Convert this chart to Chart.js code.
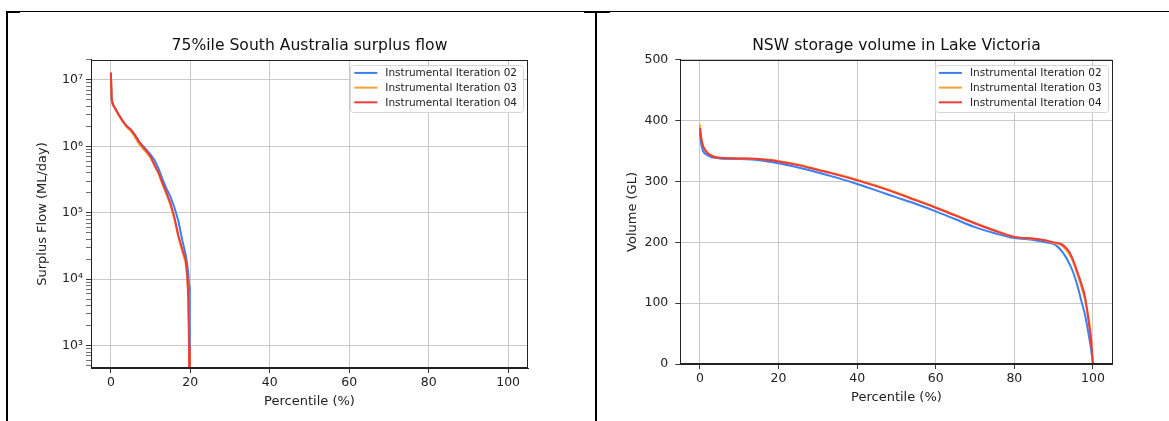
<!DOCTYPE html>
<html>
<head>
<meta charset="utf-8">
<title>Surplus flow and Lake Victoria storage</title>
<script src="https://cdn.jsdelivr.net/npm/chart.js@4.4.0/dist/chart.umd.min.js"></script>
<style>
  html, body { margin: 0; padding: 0; background: #fff; }
  body { width: 1169px; height: 421px; position: relative; overflow: hidden; }
  .cell { position: absolute; top: 0; height: 421px; }
  .rule { position: absolute; background: #000; }
</style>
</head>
<body>
<div class="cell" style="left:0;width:595px"><canvas id="saChart" width="595" height="421"></canvas></div>
<div class="cell" style="left:597px;width:572px"><canvas id="lvChart" width="572" height="421"></canvas></div>

<!-- table cell borders round the two figures -->
<div class="rule" style="left:6px;top:11px;width:1163px;height:1px"></div>
<div class="rule" style="left:6px;top:11px;width:14px;height:2px"></div>
<div class="rule" style="left:584px;top:11px;width:26px;height:2px"></div>
<div class="rule" style="left:6px;top:11px;width:2px;height:410px"></div>
<div class="rule" style="left:595px;top:11px;width:2px;height:410px"></div>

<script>
// ---- data ----
const seriesNames = ['Instrumental Iteration 02', 'Instrumental Iteration 03', 'Instrumental Iteration 04'];
const percentileTicks = [0, 20, 40, 60, 80, 100];

// 75%ile South Australia surplus flow (ML/day), log axis
const flowDecades = [1e3, 1e4, 1e5, 1e6, 1e7];
const saPct = [0, 0.2, 0.5, 1, 2, 3, 4, 5, 6, 7, 8, 9, 10, 11, 12, 13, 14, 15, 16, 17, 18, 18.8, 19.2, 19.5, 19.7, 19.8, 19.9];
const flow02 = [1.2e7, 5.0e6, 4.3e6, 3.8e6, 3.0e6, 2.4e6, 2.0e6, 1.8e6, 1.5e6, 1.2e6, 1.02e6, 8.8e5, 7.5e5, 6.2e5, 4.6e5, 3.2e5, 2.3e5, 1.75e5, 1.2e5, 7.5e4, 3.8e4, 2.4e4, 1.7e4, 1.2e4, 8e3, 2e3, 1];
const flow03 = [1.25e7, 5.1e6, 4.2e6, 3.7e6, 2.9e6, 2.35e6, 1.95e6, 1.7e6, 1.4e6, 1.1e6, 9.3e5, 8.0e5, 6.8e5, 5.2e5, 3.9e5, 2.7e5, 1.9e5, 1.3e5, 8.0e4, 4.3e4, 2.6e4, 1.8e4, 1.1e4, 6e3, 8e2, 1, 1];
const flow04 = [1.3e7, 5.2e6, 4.3e6, 3.8e6, 3.0e6, 2.4e6, 2.0e6, 1.8e6, 1.5e6, 1.2e6, 1.0e6, 8.5e5, 7.0e5, 5.2e5, 4.0e5, 2.8e5, 2.0e5, 1.4e5, 8.5e4, 4.5e4, 2.8e4, 2.0e4, 1.25e4, 5e3, 1e3, 1, 1];

// NSW storage volume in Lake Victoria (GL)
const volumeTicks = [0, 100, 200, 300, 400, 500];
const lvPct = [0, 0.3, 0.7, 1, 1.5, 2, 3, 4, 5, 10, 15, 20, 25, 30, 35, 40, 45, 50, 55, 60, 65, 70, 75, 80, 85, 88, 90, 91, 92, 93, 94, 95, 96, 97, 98, 99, 99.5, 100];
const vol02 = [380, 362, 352, 348, 345, 343, 340, 339, 338, 337, 335, 330, 323, 315, 306, 296, 285, 274, 263, 251, 238, 225, 215, 207, 204, 200, 197, 193, 186, 177, 165, 150, 130, 105, 80, 45, 25, 0];
const vol03 = [394, 374, 361, 356, 351, 347, 343, 340, 339, 338, 337, 334, 328, 320, 312, 303, 293, 282, 270, 258, 245, 232, 220, 209, 206, 203, 199, 198, 195, 189, 180, 167, 148, 128, 105, 72, 45, 0];
const vol04 = [388, 372, 360, 355, 350, 346, 342, 340, 339, 338, 337, 333, 327, 319, 311, 302, 292, 281, 269, 257, 244, 231, 219, 209, 206, 203, 200, 199, 197, 192, 184, 170, 152, 133, 110, 65, 40, 0];

// ---- styling ----
const lineColors = ['#3a80f5', '#f7a035', '#ec3b3b'];
const FONT = '"DejaVu Sans", sans-serif';
Chart.defaults.font.family = FONT;
Chart.defaults.color = '#222';

const supDigits = '⁰¹²³⁴⁵⁶⁷⁸⁹';
const toSup = n => String(n).split('').map(c => supDigits[+c]).join('');

// full box round the plot area, like matplotlib spines
const framePlugin = {
    id: 'frame',
    afterDatasetsDraw(chart, args, opts) {
        const { ctx, chartArea: a } = chart;
        const l = Math.round(a.left) + 0.5, t = Math.round(a.top) + 0.5;
        const r = Math.round(a.right) - 0.5, b = Math.round(a.bottom) - 0.5;
        ctx.save();
        ctx.strokeStyle = opts.color || '#222';
        ctx.lineWidth = 1;
        ctx.strokeRect(l, t, r - l, b - t);
        ctx.restore();
    }
};

// legend box in the upper right corner of the plot area
const boxLegendPlugin = {
    id: 'boxLegend',
    afterDraw(chart) {
        const { ctx, chartArea: a } = chart;
        const sets = chart.data.datasets;
        ctx.save();
        ctx.font = '10.5px ' + FONT;
        const textW = Math.max(...sets.map(d => ctx.measureText(d.label).width));
        const rowH = 14.7;
        const w = 4 + 23 + 8 + textW + 6;
        const h = 7.5 + rowH * (sets.length - 1) + 10;
        const x = a.right - 5 - w, y = a.top + 5.5;
        ctx.fillStyle = 'rgba(255,255,255,0.85)';
        ctx.strokeStyle = '#d6d6d6';
        ctx.lineWidth = 1;
        ctx.beginPath();
        ctx.roundRect(Math.round(x) + 0.5, Math.round(y) + 0.5, Math.round(w), Math.round(h), 3);
        ctx.fill();
        ctx.stroke();
        sets.forEach((d, i) => {
            const cy = y + 7.5 + rowH * i;
            ctx.strokeStyle = d.borderColor;
            ctx.lineWidth = 2;
            ctx.beginPath();
            ctx.moveTo(x + 4, cy);
            ctx.lineTo(x + 27, cy);
            ctx.stroke();
            ctx.fillStyle = '#222';
            ctx.textBaseline = 'middle';
            ctx.fillText(d.label, x + 35, cy + 0.5);
        });
        ctx.restore();
    }
};

function makeSets(xs, series, tension) {
    return series.map((ys, i) => ({
        label: seriesNames[i],
        data: xs.map((x, j) => ({ x, y: ys[j] })),
        borderColor: lineColors[i],
        backgroundColor: lineColors[i],
        borderWidth: 2,
        pointRadius: 0,
        tension: tension,
        cubicInterpolationMode: tension ? 'monotone' : 'default',
        order: series.length - i
    }));
}

const gridColor = '#c4c4c4';

function xScale(tickPad, titlePad, height) {
    return {
        type: 'linear',
        min: -5,
        max: 105,
        afterBuildTicks: s => { s.ticks = percentileTicks.map(v => ({ value: v })); },
        afterFit: s => { s.height = height; },
        grid: { color: gridColor, lineWidth: 0.9, tickLength: 5, tickColor: '#222' },
        border: { color: '#222', width: 1 },
        ticks: { font: { size: 12.5 }, color: '#222', padding: tickPad, maxRotation: 0 },
        title: { display: true, text: 'Percentile (%)', font: { size: 13 }, color: '#222', padding: { top: 0, bottom: titlePad } }
    };
}

function baseOptions(titleText) {
    return {
        responsive: false,
        animation: false,
        events: [],
        layout: { padding: 0 },
        plugins: {
            legend: { display: false },
            tooltip: { enabled: false },
            title: {
                display: true,
                text: titleText,
                fullSize: false,
                color: '#111',
                font: { size: 15.6, weight: 'normal' },
                padding: { top: 36.3, bottom: 4.9 }
            },
            frame: { color: '#222' }
        }
    };
}

// ---- left: surplus flow ----
const saOpts = baseOptions('75%ile South Australia surplus flow');
saOpts.layout.padding = { left: 0, right: 67, top: 0, bottom: 0 };
saOpts.scales = {
    x: xScale(2.2, 11.2, 53),
    y: {
        type: 'logarithmic',
        min: 461,
        max: 2.0e7,
        afterBuildTicks: s => {
            const t = [];
            flowDecades.concat([1e2]).forEach(d => {
                for (let m = 1; m <= 9; m++) {
                    const v = m * d;
                    if (v >= s.min && v <= s.max) t.push({ value: v, major: m === 1 });
                }
            });
            t.sort((p, q) => p.value - q.value);
            s.ticks = t;
        },
        afterFit: s => { s.width = 91; },
        grid: {
            color: c => (c.tick && c.tick.major ? gridColor : 'rgba(0,0,0,0)'),
            lineWidth: 0.9,
            tickLength: 5,
            tickColor: '#333',
            tickWidth: c => (c.tick && c.tick.major ? 1 : 0.7)
        },
        border: { color: '#222', width: 1 },
        ticks: {
            autoSkip: false,
            padding: 3,
            color: '#222',
            font: { size: 12.5 },
            callback: (v, i, ticks) => (ticks[i].major ? '10' + toSup(Math.round(Math.log10(v))) : '')
        },
        title: { display: true, text: 'Surplus Flow (ML/day)', font: { size: 13 }, color: '#222', padding: { top: 35.2, bottom: 0 } }
    }
};

new Chart(document.getElementById('saChart'), {
    type: 'line',
    data: { datasets: makeSets(saPct, [flow02, flow03, flow04], 0) },
    options: saOpts,
    plugins: [framePlugin, boxLegendPlugin]
});

// ---- right: Lake Victoria storage ----
const lvOpts = baseOptions('NSW storage volume in Lake Victoria');
lvOpts.layout.padding = { left: 0, right: 56.4, top: 0, bottom: 0 };
lvOpts.scales = {
    x: xScale(2.5, 15.5, 57),
    y: {
        type: 'linear',
        min: 0,
        max: 500,
        afterBuildTicks: s => { s.ticks = volumeTicks.map(v => ({ value: v })); },
        afterFit: s => { s.width = 83.3; },
        grid: { color: gridColor, lineWidth: 0.9, tickLength: 5, tickColor: '#222' },
        border: { color: '#222', width: 1 },
        ticks: { padding: 7, color: '#222', font: { size: 12.5 } },
        title: { display: true, text: 'Volume (GL)', font: { size: 13 }, color: '#222', padding: { top: 27.7, bottom: 0 } }
    }
};

new Chart(document.getElementById('lvChart'), {
    type: 'line',
    data: { datasets: makeSets(lvPct, [vol02, vol03, vol04], 0.4) },
    options: lvOpts,
    plugins: [framePlugin, boxLegendPlugin]
});
</script>
</body>
</html>
